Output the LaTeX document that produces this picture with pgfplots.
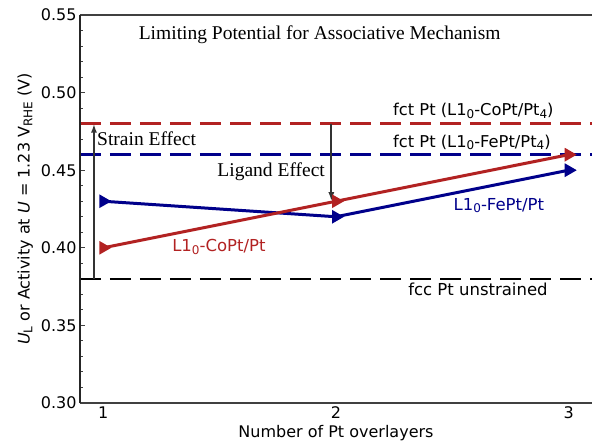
\documentclass[border=0pt]{standalone}
\usepackage{fontspec}
\setmainfont{DejaVu Sans}
\newfontfamily\titlefont{Liberation Serif}
\usepackage{pgfplots}
\pgfplotsset{compat=1.18}
\usetikzlibrary{arrows.meta}

\definecolor{cored}{HTML}{B22222}
\definecolor{feblue}{HTML}{00008B}
\definecolor{spine}{HTML}{404040}
\definecolor{arrowgray}{HTML}{333333}

\newcommand{\annfont}{\fontsize{16.3}{18}\selectfont}
\newcommand{\sub}[1]{\raisebox{-0.3ex}{\fontsize{12}{14}\selectfont #1}}

\begin{document}
\begin{tikzpicture}
\begin{axis}[
  scale only axis,
  width=512pt, height=388pt,
  xmin=0.9, xmax=3.1,
  ymin=0.30, ymax=0.55,
  axis line style={draw=none},
  xtick={1,2,3},
  xtick style={draw=none},
  ytick={0.30,0.35,0.40,0.45,0.50,0.55},
  minor y tick num=4,
  ytick pos=left,
  tick align=inside,
  major tick length=5pt,
  minor tick length=3pt,
  y tick style={spine, line width=1pt},
  /pgf/number format/assume math mode=true,
  yticklabel style={/pgf/number format/fixed, /pgf/number format/fixed zerofill, /pgf/number format/precision=2},
  tick label style={font=\fontsize{16}{18}\selectfont},
  xlabel={Number of Pt overlayers},
  ylabel={\textit{U}\sub{L} or Activity at \textit{U} = 1.23 V\sub{RHE} (V)},
  label style={font=\fontsize{16}{18}\selectfont},
  xlabel style={at={(axis description cs:0.5,-0.078)}, anchor=center},
  ylabel style={at={(axis description cs:-0.107,0.5)}, anchor=center, rotate=0},
  clip=false,
]
  % reference levels
  \addplot[cored, line width=2.5pt, dash pattern=on 21pt off 9pt] coordinates {(0.9,0.48) (3.1,0.48)};
  \addplot[feblue, line width=2.5pt, dash pattern=on 21pt off 9pt] coordinates {(0.9,0.46) (3.1,0.46)};
  \addplot[black, line width=2.5pt, dash pattern=on 21pt off 9pt] coordinates {(0.9,0.38) (3.1,0.38)};

  % L1_0-FePt/Pt
  \addplot[feblue, line width=3pt, mark=triangle*, mark size=5pt,
    mark options={rotate=-90, solid}] coordinates {(1,0.43) (2,0.42) (3,0.45)};
  % L1_0-CoPt/Pt
  \addplot[cored, line width=3pt, mark=triangle*, mark size=5pt,
    mark options={rotate=-90, solid}] coordinates {(1,0.40) (2,0.43) (3,0.46)};

  % effect arrows
  \draw[arrowgray, line width=1.8pt, -{Latex[length=9pt,width=6pt]}]
    (axis cs:0.96,0.38) -- (axis cs:0.96,0.48);
  \draw[arrowgray, line width=1.8pt, -{Latex[length=9pt,width=6pt]}]
    (axis cs:1.98,0.48) -- (axis cs:1.98,0.43);

  % spines
  \draw[spine, line width=1.6pt] (rel axis cs:0,0) -- (rel axis cs:1,0);
  \draw[spine, line width=1.6pt] (rel axis cs:0,1) -- (rel axis cs:1,1);
  \draw[black!85, line width=1.6pt] (rel axis cs:0,0) -- (rel axis cs:0,1);

  % annotations
  \node[font=\titlefont\fontsize{19.5}{22}\selectfont] at (axis cs:1.93,0.537) {Limiting Potential for Associative Mechanism};
  \node[font=\titlefont\fontsize{19.5}{22}\selectfont, anchor=west, inner sep=0pt] at (axis cs:0.973,0.470) {Strain Effect};
  \node[font=\titlefont\fontsize{19.5}{22}\selectfont, anchor=east, inner sep=0pt] at (axis cs:1.953,0.4487) {Ligand Effect};
  \node[font=\annfont, anchor=west, inner sep=0pt] at (axis cs:2.245,0.488) {fct Pt (L1\sub{0}-CoPt/Pt\sub{4})};
  \node[font=\annfont, anchor=west, inner sep=0pt] at (axis cs:2.245,0.468) {fct Pt (L1\sub{0}-FePt/Pt\sub{4})};
  \node[font=\fontsize{16.5}{18}\selectfont, text=feblue] at (axis cs:2.70,0.4273) {L1\sub{0}-FePt/Pt};
  \node[font=\fontsize{16.5}{18}\selectfont, text=cored] at (axis cs:1.497,0.4005) {L1\sub{0}-CoPt/Pt};
  \node[font=\fontsize{16.5}{18}\selectfont] at (axis cs:2.61,0.3735) {fcc Pt unstrained};
\end{axis}
\pgfresetboundingbox
\path[use as bounding box] (-80pt,-39pt) rectangle (512pt,403pt);
\end{tikzpicture}
\end{document}
